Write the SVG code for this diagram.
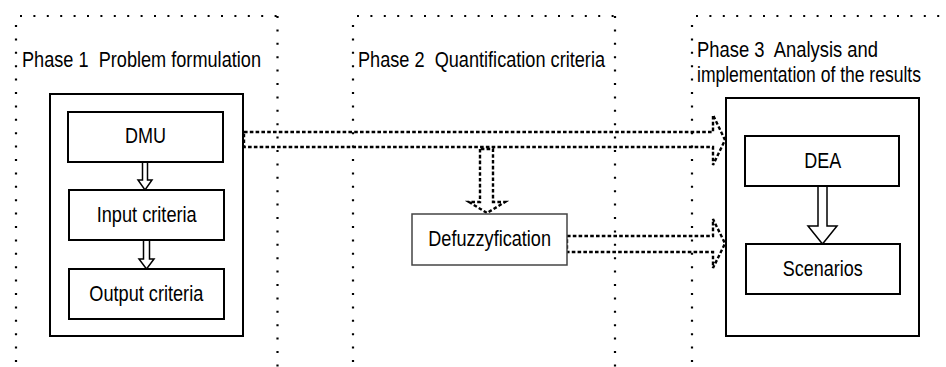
<svg xmlns="http://www.w3.org/2000/svg" width="946" height="367" viewBox="0 0 946 367">
<style>
  .frame{fill:none;stroke:#000;stroke-width:2.2;stroke-dasharray:2 11.4}
  .box{fill:#fff;stroke:#000;stroke-width:2}
  .box2{fill:#fff;stroke:#444;stroke-width:1.5}
  .solid{fill:#fff;stroke:#000;stroke-width:1.5;stroke-linejoin:miter}
  .dash{fill:none;stroke:#000;stroke-width:2.4;stroke-dasharray:3.6 2.2}
  text{font-family:"Liberation Sans",Arial,sans-serif;font-size:22px;fill:#000;white-space:pre}
</style>
<rect width="946" height="367" fill="#fff"/>
<g id="phase1">
  <path class="frame" d="M20,16 H280 M16,25 V367 M277.5,16 V367"/>
  <text x="22" y="67" textLength="239" lengthAdjust="spacingAndGlyphs" xml:space="preserve">Phase 1  Problem formulation</text>
  <rect class="box" x="50" y="94" width="193" height="242"/>
</g>
<g id="phase2">
  <path class="frame" d="M357,16 H617 M353,25 V367 M615,16 V367"/>
  <text x="358" y="67" textLength="247" lengthAdjust="spacingAndGlyphs" xml:space="preserve">Phase 2  Quantification criteria</text>
</g>
<g id="phase3">
  <path class="frame" d="M696,16 H942 M692,25 V367"/>
  <text x="697" y="57" textLength="181" lengthAdjust="spacingAndGlyphs" xml:space="preserve">Phase 3  Analysis and</text>
  <text transform="translate(697,82) scale(0.797,1)" x="0" y="0">implementation of the results</text>
  <rect class="box" x="726" y="98" width="193" height="238"/>
</g>
<g id="connectors">
  <path class="dash" d="M244,132 H713 V115 L725,140 L713,165 V147 H244 Z"/>
  <path class="dash" d="M480,149 V202 H469 L487,213 L505,202 H493 V149 Z"/>
  <path class="dash" d="M567,236 H713 V219 L725,243.5 L713,268 V252 H567 Z"/>
  <path class="solid" d="M142.5,162 V180 H138 L145,190 L152,180 H147.5 V162"/>
  <path class="solid" d="M143.5,240 V259 H139 L146.5,269 L154,259 H149.5 V240"/>
  <path class="solid" d="M818,186 V226 H808 L822.5,244 L837,226 H827 V186"/>
</g>
<g id="dmu">
  <rect class="box" x="68" y="112" width="155" height="50"/>
  <text x="125" y="143" textLength="41" lengthAdjust="spacingAndGlyphs">DMU</text>
</g>
<g id="input-criteria">
  <rect class="box" x="69" y="190" width="155" height="50"/>
  <text x="96.7" y="222" textLength="100" lengthAdjust="spacingAndGlyphs">Input criteria</text>
</g>
<g id="output-criteria">
  <rect class="box" x="69" y="269" width="155" height="50"/>
  <text x="89.3" y="301" textLength="114" lengthAdjust="spacingAndGlyphs">Output criteria</text>
</g>
<g id="defuzzyfication">
  <rect class="box2" x="412" y="214" width="155" height="51"/>
  <text x="428.3" y="246" textLength="122.7" lengthAdjust="spacingAndGlyphs">Defuzzyfication</text>
</g>
<g id="dea">
  <rect class="box" x="745" y="136" width="154" height="50"/>
  <text x="804.3" y="167.5" textLength="37" lengthAdjust="spacingAndGlyphs">DEA</text>
</g>
<g id="scenarios">
  <rect class="box" x="746" y="244" width="154" height="50"/>
  <text x="782.7" y="276" textLength="80" lengthAdjust="spacingAndGlyphs">Scenarios</text>
</g>
</svg>
